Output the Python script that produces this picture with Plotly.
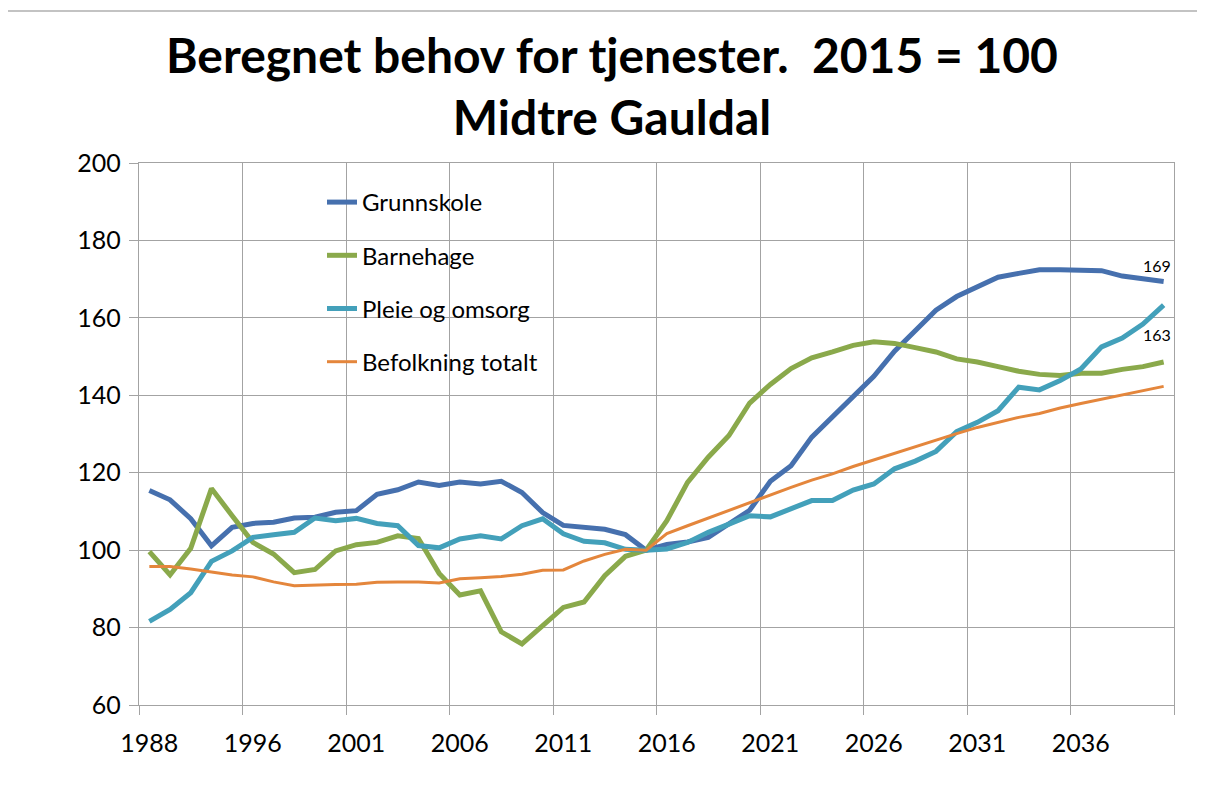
import plotly.graph_objects as go

years = ["1988", "1990", "1992", "1994", "1995"] + [str(y) for y in range(1996, 2041)]

grunnskole = [115.4, 113.0, 108.1, 101.1, 105.9, 106.9, 107.2, 108.3, 108.5, 109.8,
              110.2, 114.4, 115.6, 117.6, 116.7, 117.6, 117.1, 117.8, 114.9, 109.7,
              106.4, 106.0, 105.4, 104.0, 100.0, 101.5, 102.1, 103.3, 106.8, 110.3,
              117.8, 121.8, 129.2, 134.4, 139.6, 144.9, 151.4, 156.8, 162.0, 165.5,
              168.1, 170.5, 171.5, 172.4, 172.4, 172.4, 172.2, 170.8, 170.2, 169.4]

barnehage = [99.6, 93.6, 100.5, 115.9, 108.9, 102.0, 99.0, 94.2, 95.0, 99.8,
             101.4, 102.0, 103.7, 103.0, 94.0, 88.4, 89.5, 78.9, 75.8, 80.4,
             85.2, 86.6, 93.4, 98.4, 100.0, 107.6, 117.5, 124.0, 129.6, 138.0,
             142.8, 146.9, 149.7, 151.2, 152.9, 153.8, 153.4, 152.3, 151.2, 149.4,
             148.6, 147.4, 146.2, 145.4, 145.1, 145.7, 145.7, 146.7, 147.4, 148.6]

pleie = [81.6, 84.7, 89.0, 97.1, 99.8, 103.3, 104.0, 104.6, 108.3, 107.6,
         108.2, 106.9, 106.3, 101.2, 100.6, 102.9, 103.7, 102.9, 106.3, 108.1,
         104.2, 102.3, 101.9, 100.2, 100.0, 100.3, 102.0, 104.6, 106.7, 108.9,
         108.6, 110.6, 112.8, 112.8, 115.5, 117.1, 121.0, 123.0, 125.5, 130.6,
         133.0, 136.0, 142.1, 141.4, 143.8, 146.8, 152.5, 154.8, 158.4, 163.3]

befolkning = [95.8, 95.8, 95.1, 94.3, 93.6, 93.1, 91.8, 90.8, 91.0, 91.1,
              91.2, 91.7, 91.8, 91.8, 91.5, 92.6, 92.9, 93.2, 93.8, 94.8,
              94.9, 97.2, 98.9, 100.2, 100.0, 104.3, 106.3, 108.3, 110.4, 112.3,
              114.3, 116.2, 118.1, 119.7, 121.6, 123.3, 125.0, 126.9, 128.4, 130.1,
              131.7, 133.0, 134.3, 135.3, 136.7, 137.9, 139.0, 140.1, 141.2, 142.3]

series = [
    ("Grunnskole", grunnskole, "#4670AE", 5),
    ("Barnehage", barnehage, "#8AA94B", 5),
    ("Pleie og omsorg", pleie, "#43A0BA", 5),
    ("Befolkning totalt", befolkning, "#E4863C", 3),
]

FONT = "Lato, 'Open Sans', sans-serif"
GRID = "#A3A3A3"

# page body adds an 8px offset; figure is sized so the plot lands where the reference has it
W, H = 1197, 783
L, R, T, B = 131, 31, 155, 86
PW, PH = W - L - R, H - T - B

fig = go.Figure()
for name, vals, color, width in series:
    fig.add_trace(go.Scatter(
        x=years, y=vals, name=name, mode="lines", legendgroup=name,
        line=dict(color=color, width=width),
    ))

last = len(years) - 1
# end-point data labels
fig.add_annotation(x=last, y=grunnskole[-1], text=f"{round(grunnskole[-1])}",
                   showarrow=False, yshift=16, xshift=-7,
                   font=dict(family=FONT, size=16, color="#000000"))
fig.add_annotation(x=last, y=pleie[-1], text=f"{round(pleie[-1])}",
                   showarrow=False, yshift=-29, xshift=-7,
                   font=dict(family=FONT, size=16, color="#000000"))

# outer chart border (top and right)
bx = (1190 - L) / PW
by = (H - B - 3) / PH
fig.add_shape(type="line", xref="paper", yref="paper",
              x0=-0.2, x1=bx, y0=by, y1=by,
              line=dict(color="#AFAFAF", width=1.5))
fig.add_shape(type="line", xref="paper", yref="paper",
              x0=bx, x1=bx, y0=by, y1=-0.2,
              line=dict(color="#AFAFAF", width=1.5))

fig.update_layout(
    width=W, height=H,
    margin=dict(l=L, r=R, t=T, b=B, autoexpand=False),
    paper_bgcolor="white", plot_bgcolor="white",
    font=dict(family=FONT, color="#000000"),
    title=dict(
        text="Beregnet behov for tjenester.\u00a0 2015 = 100<br>Midtre Gauldal",
        x=604 / W, xanchor="center", xref="container",
        y=1 - 65 / H, yanchor="top", yref="container",
        font=dict(family=FONT, size=48, color="#000000", weight="bold"),
    ),
    showlegend=True,
    legend=dict(
        x=(314 - L) / PW, xanchor="left",
        y=(H - B - 172) / PH, yanchor="top",
        bgcolor="rgba(0,0,0,0)", borderwidth=0,
        font=dict(family=FONT, size=24, color="#000000"),
        tracegroupgap=19, traceorder="grouped",
    ),
    xaxis=dict(
        type="category", range=[-0.5, 49.5],
        tickmode="linear", tick0=0, dtick=5, tickson="boundaries",
        tickangle=0, automargin=False, ticklabelstandoff=16,
        showgrid=True, gridcolor=GRID, gridwidth=1.3,
        showline=True, linecolor=GRID, linewidth=1.3, mirror=True,
        ticks="outside", ticklen=9, tickcolor=GRID, tickwidth=1.3,
        tickfont=dict(family=FONT, size=25, color="#000000"),
        zeroline=False,
    ),
    yaxis=dict(
        range=[60, 200], tickmode="linear", tick0=60, dtick=20,
        automargin=False,
        showgrid=True, gridcolor=GRID, gridwidth=1.3,
        showline=True, linecolor=GRID, linewidth=1.3, mirror=True,
        ticks="outside", ticklen=9, tickcolor=GRID, tickwidth=1.3,
        tickfont=dict(family=FONT, size=25, color="#000000"),
        ticklabelstandoff=3,
        zeroline=False,
    ),
)

fig.write_html("out.html")
